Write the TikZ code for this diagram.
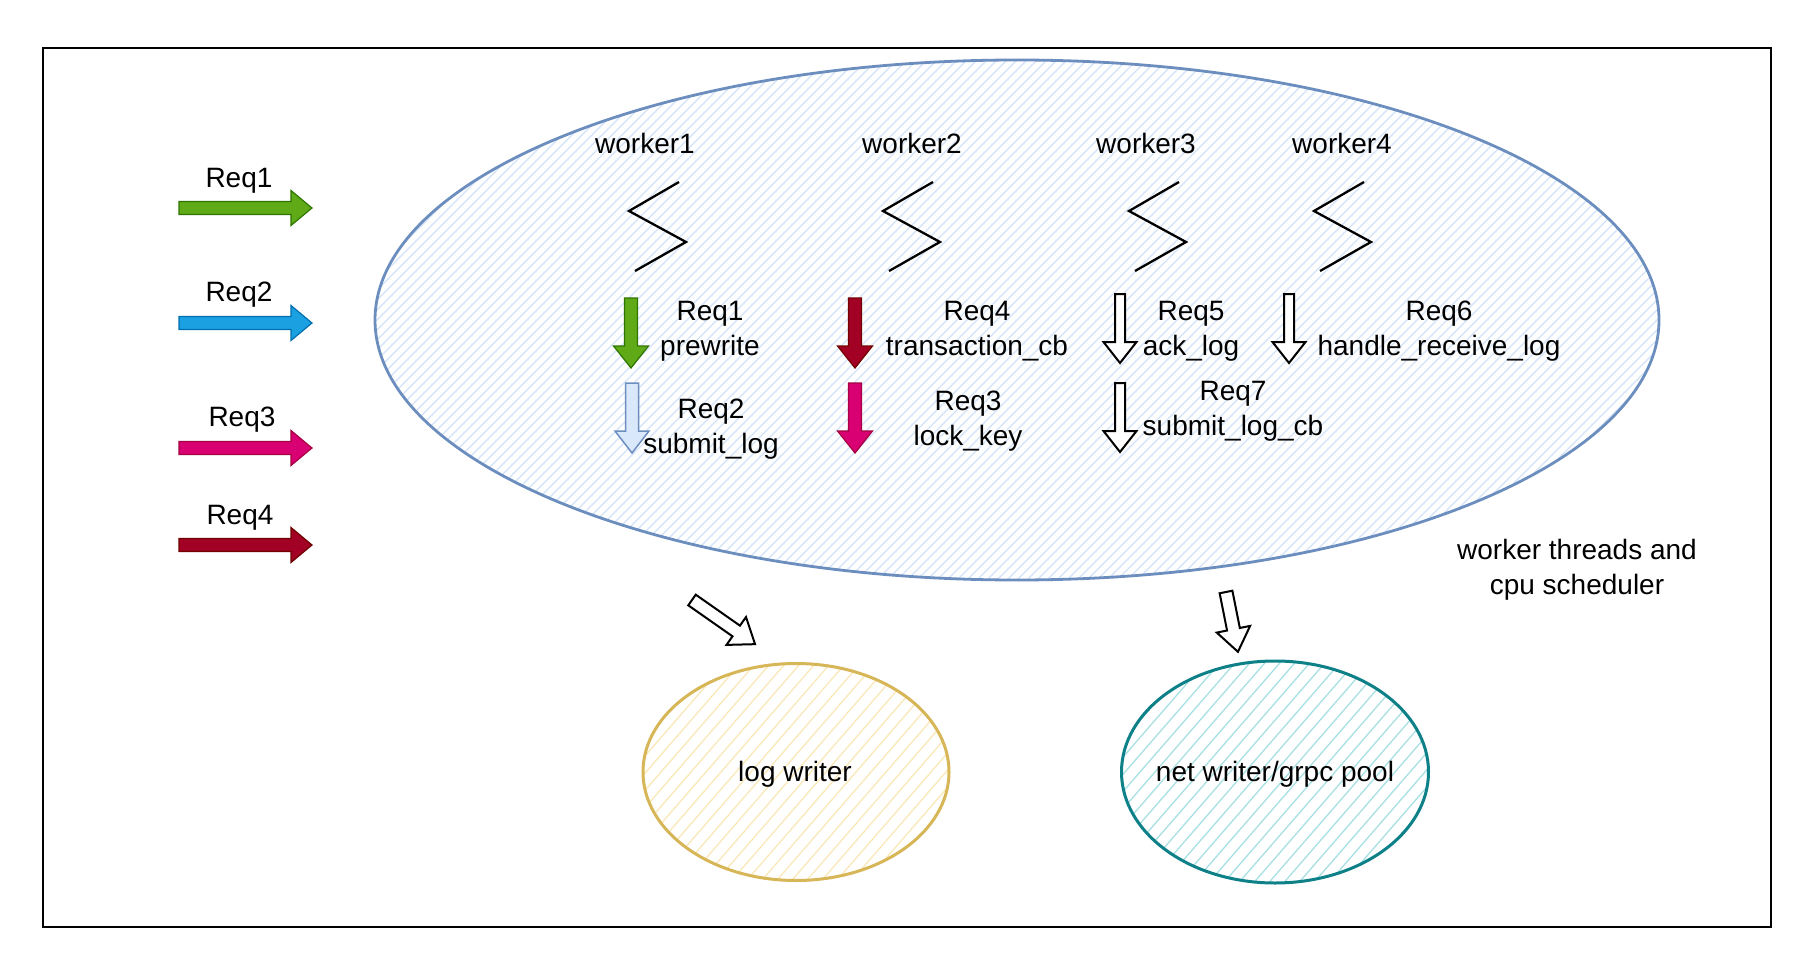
\documentclass[tikz,border=0pt]{standalone}
\usepackage{fontspec}
\setmainfont{Liberation Sans}
\usetikzlibrary{shapes.geometric}
\definecolor{ellblue}{HTML}{6C8EBF}
\definecolor{hatchblue}{HTML}{D2E2F8}
\definecolor{logstroke}{HTML}{D6B656}
\definecolor{loghatch}{HTML}{FAE8B8}
\definecolor{netstroke}{HTML}{0E8088}
\definecolor{nethatch}{HTML}{A8E0E4}
\definecolor{gfill}{HTML}{60A917}\definecolor{gline}{HTML}{2D7600}
\definecolor{bfill}{HTML}{1BA1E2}\definecolor{bline}{HTML}{006EAF}
\definecolor{pfill}{HTML}{D80073}\definecolor{pline}{HTML}{A50040}
\definecolor{rfill}{HTML}{A20025}\definecolor{rline}{HTML}{6F0000}
\definecolor{lbfill}{HTML}{DAE8FC}
\newcommand\blockarr[7]{%
  \begin{scope}[shift={#2},rotate=#3]
    \draw[#1] (0,-#5) -- ({#4-#7},-#5) -- ({#4-#7},-#6) -- (#4,0) -- ({#4-#7},#6) -- ({#4-#7},#5) -- (0,#5) -- cycle;
  \end{scope}}
\begin{document}
\begin{tikzpicture}[x=1pt,y=-1pt,
  lbl/.style={font=\fontsize{28}{35}\selectfont, inner sep=0pt, align=center},
  outer/.style={draw=black, line width=2pt},
  zig/.style={draw=black, line width=2.3pt},
  hatchline/.style={line width=1.3pt},
  garr/.style={fill=gfill, draw=gline, line width=1.2pt},
  barr/.style={fill=bfill, draw=bline, line width=1.2pt},
  parr/.style={fill=pfill, draw=pline, line width=1.2pt},
  rarr/.style={fill=rfill, draw=rline, line width=1.2pt},
  lbarr/.style={fill=lbfill, draw=ellblue, line width=1.5pt},
  warr/.style={fill=white, draw=black, line width=2pt, line join=miter},
]
\useasboundingbox (0,0) rectangle (1810,960);
\fill[white] (0,0) rectangle (1810,960);
\draw[outer] (43,48) rectangle (1771,927);

% worker pool ellipse
\node[ellipse, draw=ellblue, line width=2.8pt, inner sep=0pt,
  minimum width=1284pt, minimum height=520pt,
  path picture={\foreach \s in {-900,-890,...,900}
    \draw[hatchline, draw=hatchblue] ([xshift={\s*1pt-280pt}, yshift=-280pt]path picture bounding box.center) -- ++(560,-560);}]
  (pool) at (1017,320) {};

% writers
\node[ellipse, draw=logstroke, line width=3pt, inner sep=0pt,
  minimum width=306pt, minimum height=217pt,
  path picture={\foreach \s in {-300,-285,...,300}
    \draw[hatchline, draw=loghatch] ([xshift={\s*1pt-100pt}, yshift=-115pt]path picture bounding box.center) -- ++(200,-230);}]
  (logw) at (796,772) {};
\node[ellipse, draw=netstroke, line width=3pt, inner sep=0pt,
  minimum width=307pt, minimum height=222pt,
  path picture={\foreach \s in {-300,-285,...,300}
    \draw[hatchline, draw=nethatch] ([xshift={\s*1pt-100pt}, yshift=-115pt]path picture bounding box.center) -- ++(200,-230);}]
  (netw) at (1275,772) {};
\node[lbl] (logt) at (795,774) {log writer};
\node[lbl] (nett) at (1275,774) {net writer/grpc pool};

% incoming requests
\node[lbl] (r1) at (239,181) {Req1};
\node[lbl] (r2) at (239,295) {Req2};
\node[lbl] (r3) at (242,420) {Req3};
\node[lbl] (r4) at (240,518) {Req4};
\blockarr{garr}{(179,208)}{0}{133}{6.5}{17.5}{21}
\blockarr{barr}{(179,323)}{0}{133}{6.5}{17.5}{21}
\blockarr{parr}{(179,448)}{0}{133}{6.5}{17.5}{21}
\blockarr{rarr}{(179,545)}{0}{133}{6.5}{17.5}{21}

% workers
\node[lbl] (w1) at (645,143) {worker1};
\node[lbl] (w2) at (912,143) {worker2};
\node[lbl] (w3) at (1146,143) {worker3};
\node[lbl] (w4) at (1342,143) {worker4};
\draw[zig] (679,182) -- (629,211) -- (686,242) -- (635,271);
\draw[zig] (933,182) -- (883,211) -- (940,242) -- (889,271);
\draw[zig] (1179,182) -- (1129,211) -- (1186,242) -- (1135,271);
\draw[zig] (1364,182) -- (1314,211) -- (1371,242) -- (1320,271);

% tasks
\blockarr{garr}{(631,298)}{-90}{70}{6.5}{17.5}{22}
\blockarr{lbarr}{(632,383)}{-90}{70}{6.5}{17}{22}
\blockarr{rarr}{(855,298)}{-90}{70}{6.5}{17.5}{22}
\blockarr{parr}{(855,383)}{-90}{70}{6.5}{17.5}{22}
\blockarr{warr}{(1120,294)}{-90}{69}{5}{16.5}{21}
\blockarr{warr}{(1289,294)}{-90}{69}{5}{16.5}{21}
\blockarr{warr}{(1120,383)}{-90}{69}{5}{16.5}{21}
\node[lbl] (t1) at (710,331) {Req1\\prewrite};
\node[lbl] (t2) at (711,429) {Req2\\submit\_log};
\node[lbl] (t4) at (977,331) {Req4\\transaction\_cb};
\node[lbl] (t3) at (968,421) {Req3\\lock\_key};
\node[lbl] (t5) at (1191,331) {Req5\\ack\_log};
\node[lbl] (t6) at (1439,331) {Req6\\handle\_receive\_log};
\node[lbl] (t7) at (1233,411) {Req7\\submit\_log\_cb};

\node[lbl] (cap) at (1577,570) {worker threads and\\cpu scheduler};

% outputs
\blockarr{warr}{(692,600)}{-35}{77}{6.5}{17}{23}
\blockarr{warr}{(1226,592)}{-78.7}{61}{6.5}{17}{23}
\end{tikzpicture}
\end{document}
